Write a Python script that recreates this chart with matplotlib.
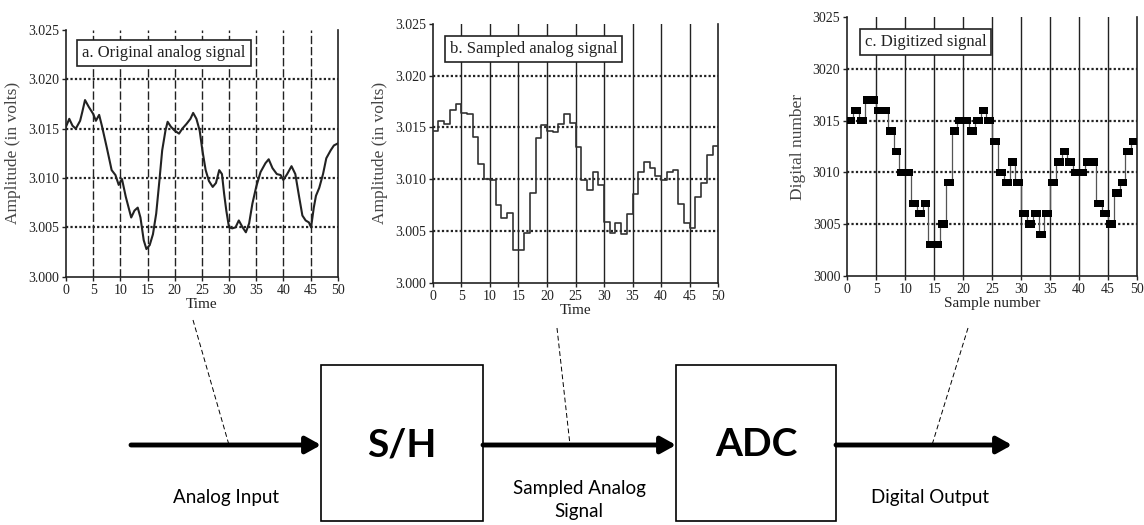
import matplotlib
matplotlib.use("Agg")
import matplotlib.pyplot as plt
import numpy as np

# ---------------- data ----------------
analog_t = [0, 0.6, 1.2, 1.8, 2.6, 3.0, 3.5, 4.2, 5.0, 5.5, 6.1, 6.6, 7.5, 8.4, 9.1, 9.7,
            10.3, 11.0, 12.0, 12.6, 13.2, 13.7, 14.3, 14.8, 15.4, 16.0, 16.6, 17.2, 17.7,
            18.3, 18.7, 19.3, 20.0, 20.8, 21.4, 22.2, 22.9, 23.4, 24.0, 24.6, 25.1, 25.7,
            26.3, 27.0, 27.6, 28.2, 28.7, 29.1, 29.5, 30.0, 30.6, 31.2, 31.8, 32.5, 33.1,
            33.7, 34.3, 35.0, 35.8, 36.7, 37.3, 38.0, 38.8, 39.5, 40.0, 40.7, 41.5, 42.2,
            42.9, 43.5, 44.1, 44.7, 45.1, 45.6, 46.0, 46.6, 47.3, 47.9, 48.7, 49.3, 50.0]
analog_v = [3.0152, 3.0160, 3.0153, 3.0150, 3.0158, 3.0167, 3.0179, 3.0172, 3.0165, 3.0158,
            3.0164, 3.0153, 3.0131, 3.0108, 3.0103, 3.0093, 3.0099, 3.0081, 3.0060, 3.0067,
            3.0070, 3.0060, 3.0037, 3.0028, 3.0032, 3.0043, 3.0064, 3.0098, 3.0128, 3.0148,
            3.0157, 3.0152, 3.0148, 3.0145, 3.0150, 3.0155, 3.0160, 3.0166, 3.0160, 3.0148,
            3.0128, 3.0108, 3.0097, 3.0091, 3.0095, 3.0108, 3.0104, 3.0084, 3.0067, 3.0050,
            3.0049, 3.0050, 3.0057, 3.0050, 3.0045, 3.0054, 3.0074, 3.0091, 3.0106, 3.0115,
            3.0119, 3.0110, 3.0104, 3.0103, 3.0098, 3.0104, 3.0112, 3.0104, 3.0081, 3.0062,
            3.0057, 3.0055, 3.0050, 3.0070, 3.0082, 3.0090, 3.0104, 3.0120, 3.0128, 3.0133,
            3.0135]

sampled_v = [3.01465, 3.0156, 3.0153, 3.0167, 3.0173, 3.0164, 3.0163, 3.0141, 3.0115, 3.0100,
             3.0099, 3.0075, 3.0063, 3.0067, 3.0032, 3.0032, 3.0048, 3.0087, 3.0140, 3.0152,
             3.0147, 3.0146, 3.0153, 3.0163, 3.0154, 3.0131, 3.0099, 3.0090, 3.0107, 3.0094,
             3.0059, 3.0048, 3.0058, 3.0047, 3.0066, 3.0086, 3.0107, 3.0117, 3.0111, 3.0103,
             3.0099, 3.0107, 3.0109, 3.0076, 3.0058, 3.0053, 3.0083, 3.0096, 3.0123, 3.0132]

digital_v = [3015, 3016, 3015, 3017, 3017, 3016, 3016, 3014, 3012, 3010,
             3010, 3007, 3006, 3007, 3003, 3003, 3005, 3009, 3014, 3015,
             3015, 3014, 3015, 3016, 3015, 3013, 3010, 3009, 3011, 3009,
             3006, 3005, 3006, 3004, 3006, 3009, 3011, 3012, 3011, 3010,
             3010, 3011, 3011, 3007, 3006, 3005, 3008, 3009, 3012, 3013]

x_ticks = [0, 5, 10, 15, 20, 25, 30, 35, 40, 45, 50]
volt_ticks = [3.000, 3.005, 3.010, 3.015, 3.020, 3.025]
dn_ticks = [3000, 3005, 3010, 3015, 3020, 3025]
titles = ["a. Original analog signal", "b. Sampled analog signal", "c. Digitized signal"]
block_labels = ["S/H", "ADC"]
io_labels = ["Analog Input", "Sampled Analog\nSignal", "Digital Output"]

W, H = 1144, 525
fig = plt.figure(figsize=(W / 100, H / 100), dpi=100)
fig.patch.set_facecolor("white")

SERIF = ["Liberation Serif", "DejaVu Serif"]
SANS = ["Lato", "DejaVu Sans"]

# --------------- background overlay for the block diagram ---------------
bg = fig.add_axes([0, 0, 1, 1], zorder=0)
bg.set_xlim(0, W)
bg.set_ylim(H, 0)
bg.axis("off")

def style_panel(ax, yticks, ylim, fmt, vdash, ylabel, xlabel, title, tbox):
    ax.set_xlim(0, 50)
    ax.set_ylim(*ylim)
    ax.set_xticks(x_ticks)
    ax.set_yticks(yticks)
    ax.set_yticklabels([fmt(v) for v in yticks], family=SERIF, fontsize=10)
    ax.set_xticklabels([str(v) for v in x_ticks], family=SERIF, fontsize=10)
    ax.tick_params(axis="both", length=3, width=1, pad=2, colors="#222222")
    ax.spines["top"].set_visible(False)
    for s in ["left", "bottom", "right"]:
        ax.spines[s].set_linewidth(1.2)
        ax.spines[s].set_color("#222222")
    for xv in x_ticks[1:-1]:
        if vdash:
            ax.axvline(xv, color="#222222", lw=1.0, ls=(0, (6, 2)), zorder=1)
        else:
            ax.axvline(xv, color="#222222", lw=1.0, zorder=1)
    for yv in yticks[1:-1]:
        ax.axhline(yv, color="#222222", lw=1.6, ls=(0, (1, 1)), zorder=1)
    ax.set_ylabel(ylabel, family=SERIF, fontsize=12.5, color="#444444", labelpad=5)
    ax.set_xlabel(xlabel, family=SERIF, fontsize=11, color="#222222", labelpad=1)
    ax.text(tbox[0], tbox[1], title, transform=ax.transAxes, family=SERIF, fontsize=12,
            va="center", ha="left", color="#222222", zorder=5,
            bbox=dict(boxstyle="square,pad=0.3", fc="white", ec="#222222", lw=1.2))

# Panel a
axa = fig.add_axes([66 / W, 1 - 276.7 / H, 271.7 / W, 246.7 / H], zorder=2)
axa.plot(analog_t, analog_v, color="#222222", lw=1.5, zorder=3)
style_panel(axa, volt_ticks, (3.000, 3.025), lambda v: f"{v:.3f}", True,
            "Amplitude (in volts)", "Time", titles[0], (0.06, 0.905))

# Panel b
axb = fig.add_axes([432.7 / W, 1 - 282.7 / H, 285.6 / W, 258.7 / H], zorder=2)
n = np.arange(len(sampled_v) + 1)
axb.step(n, sampled_v + [sampled_v[-1]], where="post", color="#333333", lw=1.2, zorder=3)
style_panel(axb, volt_ticks, (3.000, 3.025), lambda v: f"{v:.3f}", False,
            "Amplitude (in volts)", "Time", titles[1], (0.06, 0.905))

# Panel c
axc = fig.add_axes([847.3 / W, 1 - 275.6 / H, 289.7 / W, 258.2 / H], zorder=2)
nc = np.arange(len(digital_v))
axc.step(np.arange(len(digital_v) + 1), digital_v + [digital_v[-1]], where="post",
         color="#555555", lw=0.9, zorder=3)
axc.bar(nc + 0.5, 0.7, bottom=np.array(digital_v) - 0.35, width=1.7, color="black",
        zorder=4)
style_panel(axc, dn_ticks, (3000, 3025), lambda v: f"{v:d}", False,
            "Digital number", "Sample number", titles[2], (0.06, 0.905))

# --------------- block diagram ---------------
arrow_y = 445
for x0, x1 in [(131, 321), (483, 676), (836, 1012)]:
    bg.annotate("", xy=(x1, arrow_y), xytext=(x0, arrow_y),
                arrowprops=dict(arrowstyle="-|>,head_length=0.9,head_width=0.5",
                                color="black", lw=3.5, shrinkA=0, shrinkB=0))
for (bx0, bx1), lab in zip([(321, 483), (676, 836)], block_labels):
    bg.add_patch(plt.Rectangle((bx0, 365), bx1 - bx0, 156, fill=False,
                               ec="black", lw=1.2))
    bg.text((bx0 + bx1) / 2, arrow_y, lab, ha="center", va="center", family=SANS,
            fontsize=28, fontweight="bold")
bg.text(226, 498, io_labels[0], ha="center", va="center", family=SANS, fontsize=13.5)
bg.text(579, 500, io_labels[1], ha="center", va="center", family=SANS, fontsize=13.5,
        linespacing=1.45)
bg.text(930, 497, io_labels[2], ha="center", va="center", family=SANS, fontsize=13.5)
for (x0, y0), (x1, y1) in [((193, 320), (229, arrow_y)), ((557, 328), (570, arrow_y)),
                           ((968, 328), (932, arrow_y))]:
    bg.plot([x0, x1], [y0, y1], color="black", lw=0.7, ls=(0, (5, 3)))

fig.savefig("out.png", dpi=100, facecolor="white")
